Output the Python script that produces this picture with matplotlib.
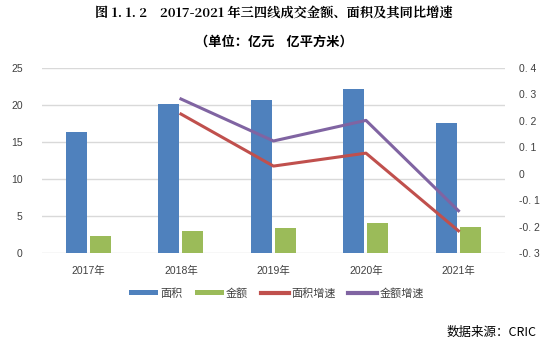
import matplotlib
matplotlib.use("Agg")
import matplotlib.pyplot as plt
import numpy as np

plt.rcParams['font.family'] = ['Liberation Sans', 'Noto Sans CJK SC', 'DejaVu Sans']

years = ['2017年', '2018年', '2019年', '2020年', '2021年']
area = [16.35, 20.1, 20.7, 22.2, 17.6]
amount = [2.3, 2.95, 3.4, 4.05, 3.5]
area_growth = [None, 0.226, 0.029, 0.078, -0.216]
amount_growth = [None, 0.283, 0.124, 0.202, -0.14]
left_ticks = [0, 5, 10, 15, 20, 25]
right_ticks = [-0.3, -0.2, -0.1, 0, 0.1, 0.2, 0.3, 0.4]
right_labels = ['-0. 3', '-0. 2', '-0. 1', '0', '0. 1', '0. 2', '0. 3', '0. 4']

c_area = '#4f81bd'
c_amt = '#9bbb59'
c_ag = '#c0504d'
c_mg = '#8064a2'

fig = plt.figure(figsize=(5.48, 3.49), dpi=100)
ax = fig.add_axes([0.077, 0.275, 0.844, 0.530])
x = np.arange(len(years))
w = 0.227
ax.bar(x - 0.13, area, w, color=c_area, label='面积', zorder=3)
ax.bar(x + 0.13, amount, w, color=c_amt, label='金额', zorder=3)
ax.set_xlim(-0.5, len(years) - 0.5)
ax.set_ylim(0, 25)
ax.set_yticks(left_ticks)
ax.yaxis.grid(True, color='#d9d9d9', linewidth=1)
ax.set_axisbelow(True)
for s in ax.spines.values():
    s.set_visible(False)
ax.tick_params(length=0, labelsize=7.5, colors='#404040')
ax.tick_params(axis='y', pad=14)
ax.tick_params(axis='x', pad=9)
ax.set_xticks(x)
ax.set_xticklabels(years)

ax2 = ax.twinx()
xi = [i for i, v in enumerate(area_growth) if v is not None]
ax2.plot(xi, [area_growth[i] for i in xi], color=c_ag, linewidth=2.2, label='面积增速', zorder=4)
ax2.plot(xi, [amount_growth[i] for i in xi], color=c_mg, linewidth=2.2, label='金额增速', zorder=4)
ax2.set_ylim(-0.3, 0.4)
ax2.set_yticks(right_ticks)
ax2.set_yticklabels(right_labels)
for s in ax2.spines.values():
    s.set_visible(False)
ax2.tick_params(length=0, labelsize=7.5, colors='#404040', pad=10)

h1, l1 = ax.get_legend_handles_labels()
h2, l2 = ax2.get_legend_handles_labels()
leg = fig.legend(h1 + h2, l1 + l2, loc='center', bbox_to_anchor=(0.505, 0.16), ncol=4,
                 frameon=False, fontsize=8, handlelength=2.6, handleheight=0.35,
                 columnspacing=1.1, handletextpad=0.2)
for t in leg.get_texts():
    t.set_color('#404040')
for line in leg.get_lines():
    line.set_linewidth(3)

fig.text(0.5, 0.962, '图 1. 1. 2    2017-2021 年三四线成交金额、面积及其同比增速',
         ha='center', va='center', fontsize=9.5, fontweight='bold',
         family=['Noto Serif CJK SC', 'Noto Sans CJK SC', 'DejaVu Sans'])
fig.text(0.5, 0.88, '（单位：亿元    亿平方米）', ha='center', va='center',
         fontsize=9.5, fontweight='bold', family=['Noto Sans CJK SC', 'DejaVu Sans'])
fig.text(0.979, 0.048, '数据来源：CRIC', ha='right', va='center', fontsize=9,
         family=['Noto Sans CJK SC', 'DejaVu Sans'])

fig.savefig('out.png', dpi=100, facecolor='white')
